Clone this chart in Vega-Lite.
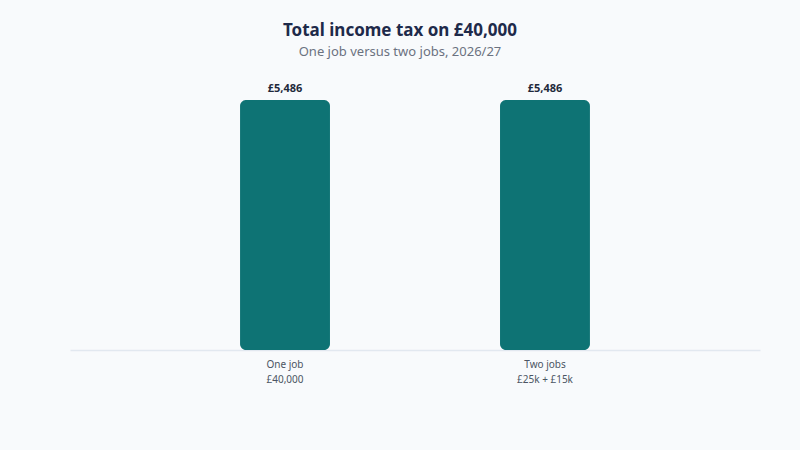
{
  "$schema": "https://vega.github.io/schema/vega-lite/v6.json",
  "autosize": "none",
  "width": 690,
  "height": 280,
  "padding": {"left": 70, "top": 70, "right": 40, "bottom": 100},
  "background": "#f8fafc",
  "title": {
    "text": "Total income tax on £40,000",
    "subtitle": "One job versus two jobs, 2026/27",
    "anchor": "middle",
    "dx": -15,
    "offset": 10,
    "font": "Noto Sans",
    "fontSize": 17,
    "fontWeight": "bold",
    "color": "#1e2a4a",
    "subtitleFont": "Noto Sans",
    "subtitleFontSize": 13,
    "subtitleColor": "#6b7280",
    "subtitlePadding": 6
  },
  "data": {
    "values": [
      {"scenario": "One job|£40,000", "tax": 5486, "label": "£5,486"},
      {"scenario": "Two jobs|£25k + £15k", "tax": 5486, "label": "£5,486"}
    ]
  },
  "encoding": {
    "x": {
      "field": "scenario",
      "type": "nominal",
      "sort": null,
      "scale": {"paddingInner": 0.654, "paddingOuter": 0.654},
      "axis": {
        "title": null,
        "labelAngle": 0,
        "labelExpr": "split(datum.label, '|')",
        "labelFont": "Noto Sans",
        "labelFontSize": 10,
        "labelColor": "#4b5563",
        "labelPadding": 9,
        "labelLineHeight": 15,
        "ticks": false,
        "domainColor": "#e2e8f0",
        "domainWidth": 1.5
      }
    },
    "y": {
      "field": "tax",
      "type": "quantitative",
      "scale": {"domain": [0, 6144], "nice": false},
      "axis": null
    }
  },
  "layer": [
    {
      "mark": {"type": "bar", "color": "#0e7374", "cornerRadius": 6}
    },
    {
      "mark": {
        "type": "text",
        "dy": -11,
        "font": "Noto Sans",
        "fontSize": 11,
        "fontWeight": "bold",
        "color": "#1e293b"
      },
      "encoding": {"text": {"field": "label"}}
    }
  ],
  "config": {"view": {"stroke": null}}
}
